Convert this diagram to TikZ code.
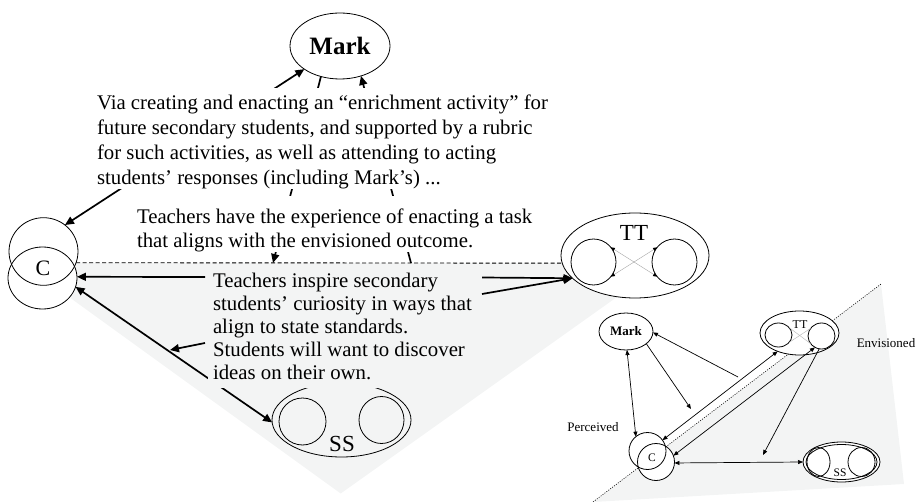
\documentclass[tikz,border=0pt]{standalone}
\usepackage{fontspec}
\setmainfont{Liberation Serif}
\usetikzlibrary{arrows.meta,shapes.geometric}
\definecolor{shadegray}{RGB}{243,244,244}
\begin{document}
\begin{tikzpicture}[x=1pt,y=-1pt,
  every node/.style={inner sep=0pt,outer sep=0pt},
  ovalnode/.style={draw,ellipse,line width=0.8pt,fill=white},
  ringnode/.style={draw,ellipse,line width=0.8pt},
  bigarr/.style={line width=1.7pt,-{Triangle[length=9pt,width=8pt]}},
  bigboth/.style={line width=1.7pt,{Triangle[length=9pt,width=8pt]}-{Triangle[length=9pt,width=8pt]}},
  smallarr/.style={line width=0.7pt,-{Triangle[length=5pt,width=4pt]}},
  smallboth/.style={line width=0.7pt,{Triangle[length=5pt,width=4pt]}-{Triangle[length=5pt,width=4pt]}},
  crossarr/.style={line width=0.4pt,draw=gray!70,{Triangle[length=4pt,width=3.5pt,color=black]}-{Triangle[length=4pt,width=3.5pt,color=black]}},
  crossthin/.style={line width=0.4pt,draw=gray!60},
  prosetext/.style={font=\fontsize{20.8}{24.8}\selectfont,align=left,anchor=north west},
]
\useasboundingbox (0,0) rectangle (920,502);

% shaded regions
\fill[shadegray] (22,263) -- (640,263) -- (650,273.5) -- (340.7,493.5) -- cycle;
\fill[shadegray] (593,502) -- (881,284) -- (904,484) -- cycle;
\draw[line width=0.6pt,dash pattern=on 1pt off 1.4pt] (593,502) -- (881,284);

% ---------- large diagram ----------
\fill[white] (43.5,251.5) ellipse [x radius=34.5pt,y radius=33.8pt];
\fill[white] (42.5,278) ellipse [x radius=34.5pt,y radius=31pt];
\node[ringnode,minimum width=69pt,minimum height=67.6pt] (cup) at (43.5,251.5) {};
\node[ringnode,minimum width=69pt,minimum height=62pt] (clo) at (42.5,278) {};
\node[font=\fontsize{22}{22}\selectfont] (clab) at (43,268) {C};

\node[ovalnode,minimum width=100pt,minimum height=66pt,font=\fontsize{25}{25}\selectfont\bfseries] (mark) at (340,46) {Mark};

\node[ovalnode,minimum width=148pt,minimum height=85pt] (tt) at (635,255.5) {};
\node[ringnode,minimum width=45pt,minimum height=46pt] (ttl) at (593.5,262) {};
\node[ringnode,minimum width=45pt,minimum height=46pt] (ttr) at (674.5,262) {};
\node[font=\fontsize{23}{23}\selectfont] (ttlab) at (634,233) {TT};
\draw[crossarr] (ttl.40) -- (ttr.220);
\draw[crossarr] (ttl.-40) -- (ttr.140);

\node[ringnode,minimum width=139pt,minimum height=74pt] (ss) at (341.5,420) {};
\node[ringnode,minimum size=47pt] (ssl) at (302.5,421.5) {};
\node[ringnode,minimum width=45pt,minimum height=47pt] (ssr) at (381.5,420) {};
\node[font=\fontsize{23}{23}\selectfont] (sslab) at (342,444) {SS};

\coordinate (dl) at (273,263);
\coordinate (dr) at (411,263);
\coordinate (t3a) at (205,277);
\coordinate (t3b) at (205,343);
\coordinate (t3c) at (170,350);
\coordinate (t3d) at (482,277.5);
\coordinate (t3e) at (482,294);

\draw[line width=0.9pt,dash pattern=on 4pt off 2.5pt] (cup.-19.5) -- (tt.186);
\draw[bigboth] (cup.51.5) -- (mark.213);
\draw[bigarr] (mark.238) -- (dl);
\draw[bigarr] (dr) -- (mark.305);
\draw[bigarr] (t3a) -- (clo.2);
\draw[bigboth] (clo.-15.5) -- (ss.182.5);
\draw[bigarr] (t3b) -- (t3c);
\draw[bigarr] (t3d) -- (tt.200);
\draw[bigarr] (t3e) -- (tt.200);

% text blocks with their backing
\fill[white] (95,88) rectangle (552,189);
\node[prosetext] (via) at (97,95) {Via creating and enacting an “enrichment activity” for\\future secondary students, and supported by a rubric\\for such activities, as well as attending to acting\\students’ responses (including Mark’s) ...};
\fill[white] (133,196) rectangle (537,252);
\node[prosetext,font=\fontsize{20.8}{24}\selectfont] (exp) at (137,209) {Teachers have the experience of enacting a task\\that aligns with the envisioned outcome.};
\fill[shadegray] (208,268) rectangle (480,388);
\node[prosetext,font=\fontsize{20.8}{23}\selectfont] (insp) at (213,273) {Teachers inspire secondary\\students’ curiosity in ways that\\align to state standards.\\Students will want to discover\\ideas on their own.};

% ---------- small diagram ----------
\fill[white] (647.5,451) circle [radius=18.5pt];
\fill[white] (656,462) circle [radius=18.5pt];
\node[ringnode,minimum size=37pt] (scup) at (647.5,451) {};
\node[ringnode,minimum size=37pt] (sclo) at (656,462) {};
\node[font=\fontsize{11.5}{11.5}\selectfont] (sclab) at (652,458) {C};

\node[ovalnode,minimum width=54pt,minimum height=37pt,font=\fontsize{13}{13}\selectfont\bfseries] (smark) at (626,331.5) {Mark};

\node[ovalnode,minimum width=79pt,minimum height=44pt] (stt) at (799.5,333) {};
\node[ringnode,minimum width=27pt,minimum height=24pt] (sttl) at (778.5,335) {};
\node[ringnode,minimum width=27pt,minimum height=26pt] (sttr) at (821.5,336) {};
\node[font=\fontsize{12}{12}\selectfont] (sttlab) at (800,325) {TT};
\draw[crossthin] (sttl.35) -- (sttr.215);
\draw[crossthin] (sttl.-35) -- (sttr.145);

\node[ovalnode,minimum width=77pt,minimum height=40pt] (sss) at (841.5,462) {};
\draw[line width=0.8pt] (841.5,462) ellipse [x radius=35.5pt,y radius=17.5pt];
\node[ringnode,minimum width=23pt,minimum height=29pt] (sssl) at (818.5,462) {};
\node[ringnode,minimum width=27pt,minimum height=29pt] (sssr) at (861.5,462) {};
\node[font=\fontsize{11.5}{11.5}\selectfont] (ssslab) at (840,473) {SS};

\coordinate (m1) at (691,409);
\coordinate (m2) at (738,377);
\coordinate (m3) at (763,455);
\draw[smallboth] (smark.-87) -- (scup.129);
\draw[smallarr] (smark.-31) -- (m1);
\draw[smallarr] (m2) -- (smark.-2);
\draw[smallboth] (scup.36) -- (stt.220);
\draw[smallboth] (sclo.20) -- (sttr.240);
\draw[smallarr] (sttr.-100) -- (m3);
\draw[smallboth] (sclo.-3) -- (sss.west);

\node[font=\fontsize{13}{13}\selectfont] (perc) at (593,427) {Perceived};
\node[font=\fontsize{13}{13}\selectfont] (env) at (886,343) {Envisioned};
\end{tikzpicture}
\end{document}
